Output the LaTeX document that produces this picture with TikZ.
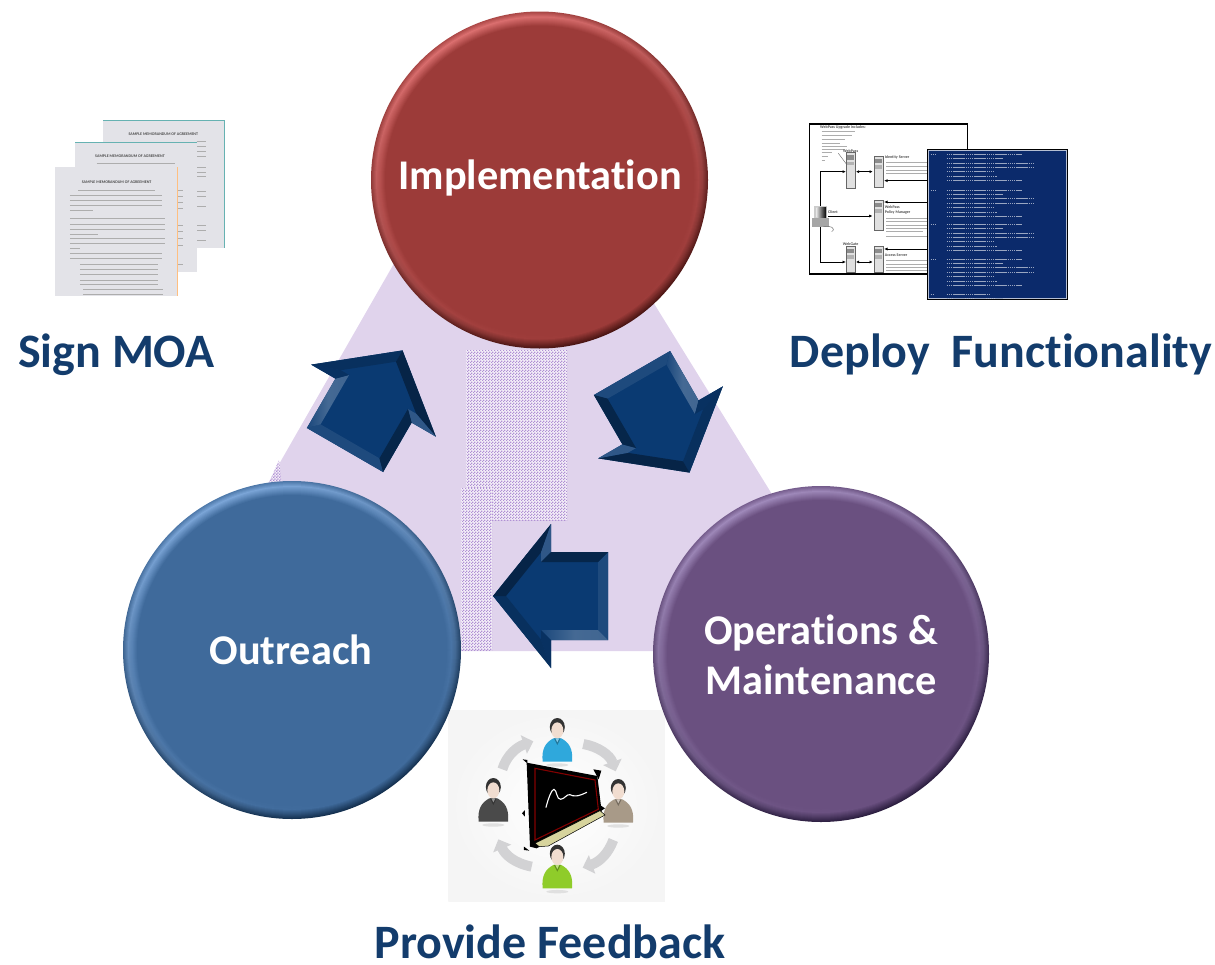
\documentclass[tikz,border=0pt]{standalone}
\usepackage{fontspec}
\setmainfont{Carlito}[Ligatures=NoCommon]
\usetikzlibrary{patterns,arrows.meta}
\definecolor{tri}{HTML}{E0D3EC}
\definecolor{redb}{HTML}{9C3B39}\definecolor{redh}{HTML}{DC7070}\definecolor{reds}{HTML}{4A1513}
\definecolor{blub}{HTML}{3F6A9B}\definecolor{bluh}{HTML}{7CA6D8}\definecolor{blus}{HTML}{14304F}
\definecolor{purb}{HTML}{6A5080}\definecolor{purh}{HTML}{A08ABB}\definecolor{purs}{HTML}{2C1E40}
\definecolor{navy}{HTML}{0A3A72}
\definecolor{labelc}{HTML}{133C6C}
\definecolor{docc}{HTML}{E3E3E8}
\definecolor{panel}{HTML}{0B2A6B}
\definecolor{garrow}{HTML}{D2D2D4}
\definecolor{hatchbase}{HTML}{F4EFF8}
\definecolor{hatchdot}{HTML}{B090D4}
\definecolor{skin}{HTML}{F1DDD0}
\definecolor{shirta}{HTML}{2FA8DC}\definecolor{shirtb}{HTML}{4A4A4A}
\definecolor{shirtc}{HTML}{A89A88}\definecolor{shirtd}{HTML}{8FCC2A}
\pgfdeclarepatternformonly{chk}{\pgfqpoint{0pt}{0pt}}{\pgfqpoint{2.7pt}{2.7pt}}{\pgfqpoint{2.7pt}{2.7pt}}{%
  \pgfpathrectangle{\pgfqpoint{0pt}{0pt}}{\pgfqpoint{1.35pt}{1.35pt}}%
  \pgfpathrectangle{\pgfqpoint{1.35pt}{1.35pt}}{\pgfqpoint{1.35pt}{1.35pt}}%
  \pgfusepath{fill}}
\tikzset{
  hatchfill/.style={fill=hatchbase,postaction={pattern=chk,pattern color=hatchdot}},
  bigtext/.style={text=white,font=\fontsize{42.3}{50}\selectfont\bfseries,align=center,inner sep=0pt},
  caption/.style={text=labelc,font=\fontsize{48}{54}\selectfont\bfseries,inner sep=0pt,anchor=base},
  docpage/.style={fill=docc},
  docline/.style={draw=black!32,line width=0.5pt},
  panelline/.style={draw=white!58!panel,line width=0.55pt,dash pattern=on 1.6pt off 0.5pt},
  netline/.style={draw=black,line width=0.9pt},
  tinytext/.style={font=\fontsize{4}{4.5}\selectfont\bfseries,text=black!70,inner sep=0pt},
  greyarrow/.style={draw=garrow,line width=10pt,-{Triangle[width=19pt,length=10pt]}},
}
\newcommand{\bevelcircle}[6]{%
  \foreach \i in {0,...,14}{%
    \pgfmathsetmacro\rr{#3-\i}%
    \pgfmathtruncatemacro\pp{\i<5 ? 25+\i*15 : 100*(14-\i)/9}%
    \pgfmathtruncatemacro\qq{\i<9 ? 100-\i*11 : 0}%
    \shade[top color=#5!\pp!#4,bottom color=#6!\qq!#4,shading angle=25] (#1,#2) circle[radius=\rr pt];
  }}
\newcommand{\navyarrow}[3]{%
  \begin{scope}[shift={(#1,#2)},rotate=#3]
    \fill[navy] (0,-44)--(57,-44)--(57,-72)--(115,0)--(57,72)--(57,44)--(0,44)--cycle;
    \fill[navy!92!white] (0,-44)--(0,44)--(10,34)--(10,-34)--cycle;
    \shade[left color=navy!93!white,right color=navy!78!white,middle color=navy!76!white] (0,-44)--(57,-44)--(67,-34)--(10,-34)--cycle;
    \fill[navy!85!black] (57,-44)--(57,-72)--(67,-43.6)--(67,-34)--cycle;
    \fill[navy!82!black] (57,-72)--(115,0)--(102,0)--(67,-43.6)--cycle;
    \fill[navy!62!black] (115,0)--(57,72)--(67,43.6)--(102,0)--cycle;
    \fill[navy!85!white] (57,72)--(57,44)--(67,34)--(67,43.6)--cycle;
    \fill[navy!65!black] (57,44)--(0,44)--(10,34)--(67,34)--cycle;
  \end{scope}}
\newcommand{\person}[3]{% head x, head y, body colour
  \fill[black!12] (#1,#2+110) ellipse[x radius=11pt,y radius=1.7pt];
  \fill[#3] (#1-44,#2+100) .. controls (#1-48,#2+60) and (#1-34,#2+42) .. (#1-12,#2+30)
     -- (#1+12,#2+30) .. controls (#1+34,#2+42) and (#1+48,#2+60) .. (#1+44,#2+100) -- cycle;
  \fill[#3!70!black] (#1-10,#2+30) -- (#1,#2+50) -- (#1+10,#2+30) -- cycle;
  \fill[#3!60!white] (#1-6,#2+30) -- (#1,#2+42) -- (#1+6,#2+30) -- cycle;
  \fill[black!80] (#1,#2-4) ellipse[x radius=7.5pt,y radius=9pt];
  \fill[skin] (#1,#2+6) ellipse[x radius=6pt,y radius=8pt];
}
\begin{document}
\begin{tikzpicture}[x=1pt,y=-1pt]
\useasboundingbox (0,0) rectangle (1215,964);
% background triangle
\fill[tri] (172,651)--(459,150)--(559,150)--(869,651)--cycle;
% hatched patches
\path[hatchfill] (466,350) rectangle (567,520);
\path[hatchfill] (461,488) rectangle (492,650);
\path[hatchfill] (279,460)--(268,485)--(282,485)--cycle;
% documents
\begin{scope}[shift={(40,110)},x=0.3333pt,y=-0.3333pt]
  \fill[docpage] (190,30) rectangle (552,415);
  \draw[teal!60,line width=0.6pt] (190,30)--(552,30)--(552,415);
  \node[tinytext] (titlec) at (370,73) {SAMPLE MEMORANDUM OF AGREEMENT};
  \foreach \y in {95,110,125,140,172,187,200,245,260,290,345,362,392}{\draw[docline] (470,\y)--(497,\y);}
  \fill[docpage] (106,97) rectangle (470,485);
  \draw[teal!60,line width=0.6pt] (106,97)--(470,97);
  \node[tinytext] (titleb) at (270,140) {SAMPLE MEMORANDUM OF AGREEMENT};
  \draw[docline] (170,160)--(405,160);
  \foreach \y in {240,258,276,294,345,365,385,405,462}{\draw[docline] (415,\y)--(430,\y);}
  \fill[docpage] (45,172) rectangle (413,557);
  \draw[orange!50,line width=0.5pt] (413,172)--(413,557);
  \node[tinytext] (titlea) at (230,217) {SAMPLE MEMORANDUM OF AGREEMENT};
  \draw[docline] (115,240)--(345,240);
  \foreach \y in {256,272,287}{\draw[docline] (90,\y)--(365,\y);}
  \draw[docline] (90,300)--(160,300);
  \foreach \y in {325,342,358}{\draw[docline] (90,\y)--(375,\y);}
  \draw[docline] (90,372)--(175,372);
  \foreach \y in {385,400}{\draw[docline] (90,\y)--(375,\y);}
  \draw[docline] (90,415)--(120,415);
  \foreach \y in {430,445}{\draw[docline] (90,\y)--(365,\y);}
  \foreach \y in {462,478,494,510,522}{\draw[docline] (120,\y)--(355,\y);}
  \foreach \y in {537,552}{\draw[docline] (130,\y)--(370,\y);}
\end{scope}
% network diagram
\begin{scope}[shift={(800,110)},x=0.3333pt,y=-0.3333pt]
  \draw[fill=white,line width=1.5pt] (28,42) rectangle (503,492);
  \node[tinytext,anchor=west] (wpt) at (60,52) {WebPass Upgrade includes:};
  \foreach \y/\e in {63/165,75/155,87/135,99/120,108/140,118/135,128/95,140/85,152/75}{\draw[docline] (65,\y)--(\e,\y);}
  \draw[black!60,line width=0.4pt] (115,130)--(145,170);
  % servers
  \foreach \x/\y/\h in {138/128/107, 222/138/95, 222/270/92, 138/408/80, 222/408/80}{
    \draw[fill=black!12,draw=black!60,line width=0.5pt] (\x,\y) rectangle (\x+27,\y+\h);
    \fill[black!45] (\x+3,\y+8) rectangle (\x+24,\y+22);
    \fill[black!30] (\x+3,\y+28) rectangle (\x+24,\y+38);
  }
  \node[tinytext] (wp1) at (152,122) {WebPass};
  \node[tinytext,anchor=west] (ids) at (254,143) {Identity Server};
  \node[tinytext,anchor=west] (wp2) at (254,292) {WebPass};
  \node[tinytext,anchor=west] (pm) at (254,308) {Policy Manager};
  \node[tinytext] (wg) at (152,401) {WebGate};
  \node[tinytext,anchor=west] (acs) at (254,435) {Access Server};
  \node[tinytext,anchor=west] (clt) at (84,307) {Client};
  \foreach \y/\e in {158/380,170/380,180/380,190/380,325/380,335/380,345/380,355/380,365/370,378/380,450/380,462/380,472/380,482/380}{\draw[docline] (258,\y)--(\e,\y);}
  % client
  \fill[black!20] (42,288) rectangle (80,325);
  \shade[left color=black!15,right color=black] (50,292) rectangle (78,323);
  \fill[black!35] (36,325) rectangle (86,350);
  \draw[black!55,line width=0.5pt] (70,350) .. controls (90,345) and (110,355) .. (95,365);
  % connectors
  \draw[netline,-{Latex[length=3.5pt,width=3pt]}] (60,288)--(60,185)--(138,185);
  \draw[netline,-{Latex[length=3.5pt,width=3pt]}] (60,350)--(60,456)--(138,456);
  \draw[netline,-{Latex[length=3.5pt,width=3pt]}] (85,318)--(218,318);
  \draw[netline,{Latex[length=3pt,width=3pt]}-{Latex[length=3pt,width=3pt]}] (168,185)--(218,185);
  \draw[netline,{Latex[length=3pt,width=3pt]}-{Latex[length=3pt,width=3pt]}] (168,456)--(218,456);
  \draw[netline,-{Latex[length=3.5pt,width=3pt]}] (385,212)--(252,212);
  \draw[netline,-{Latex[length=3.5pt,width=3pt]}] (385,276)--(252,276);
  \draw[netline,-{Latex[length=3.5pt,width=3pt]}] (385,417)--(252,417);
  % terminal panel
  \draw[fill=panel,draw=black,line width=1pt] (382,118) rectangle (803,570);
  \draw[white!70!panel,line width=0.9pt] (386,122) rectangle (799,566);
  \foreach \y in {133,240,343,447}{
    \draw[panelline] (392,\y)--(410,\y);
    \draw[panelline] (440,\y)--(665,\y);
    \draw[panelline] (440,\y+12)--(610,\y+12);
    \draw[panelline] (440,\y+26)--(700,\y+26);
    \draw[panelline] (440,\y+39)--(700,\y+39);
    \draw[panelline] (440,\y+52)--(580,\y+52);
    \draw[panelline] (440,\y+66)--(590,\y+66);
    \draw[panelline] (440,\y+79)--(665,\y+79);
  }
  \draw[panelline] (392,552)--(400,552);
  \draw[panelline] (440,552)--(570,552);
  \draw[panelline] (440,565)--(610,565);
\end{scope}
% feedback picture
\begin{scope}[shift={(440,700)},x=0.3333pt,y=-0.3333pt]
  \shade[inner color=white,outer color=black!4] (25,30) rectangle (675,605);
  \draw[greyarrow] (187,208) .. controls (200,165) and (232,140) .. (280,124);
  \draw[greyarrow] (430,132) .. controls (475,140) and (510,165) .. (527,214);
  \draw[greyarrow] (520,420) .. controls (505,460) and (480,485) .. (428,503);
  \draw[greyarrow] (275,500) .. controls (225,490) and (195,465) .. (175,418);
  \person{352}{85}{shirta}
  \person{160}{265}{shirtb}
  \person{535}{268}{shirtc}
  % blackboard
  \fill[black] (260,188)--(472,228)--(485,335)--(290,445)--(270,440)--cycle;
  \fill[black] (248,178)--(262,180)--(262,190)--cycle;
  \fill[black] (460,208)--(484,212)--(476,238)--cycle;
  \fill[black] (480,315)--(495,325)--(480,335)--cycle;
  \fill[black] (255,330) -- (246,340) -- (255,350) -- cycle;
  \fill[black] (252,440)--(268,452)--(252,450)--cycle;
  \draw[fill=black,draw=black!40!red!85!black,line width=1.1pt] (285,205)--(465,240)--(475,328)--(285,420)--cycle;
  \draw[fill=black!40!yellow!45!white,draw=black,line width=0.5pt] (285,430)--(480,332)--(495,345)--(325,438)--(298,440)--cycle;
  \draw[white,line width=1.1pt,line cap=round] (318,322) .. controls (325,295) and (335,268) .. (342,268)
     .. controls (350,268) and (350,300) .. (362,298) .. controls (375,296) and (380,282) .. (390,284)
     .. controls (400,290) and (415,290) .. (440,277);
  \person{352}{465}{shirtd}
\end{scope}
% arrows
\navyarrow{345}{450}{60}
\navyarrow{632}{373}{-60}
\navyarrow{608}{596}{180}
% circles
\bevelcircle{539.5}{180}{168.5}{redb}{redh}{reds}
\bevelcircle{292}{650}{169}{blub}{bluh}{blus}
\bevelcircle{821}{654}{168}{purb}{purh}{purs}
\node[bigtext] (impl) at (540,178) {Implementation};
\node[bigtext] (outr) at (291,650) {Outreach};
\node[bigtext] (opsm) at (821,655) {Operations \&\\Maintenance};
% captions
\node[caption] (signm) at (116.5,367) {Sign MOA};
\node[caption] (deploy) at (1001,367) {Deploy\ \ Functionality};
\node[caption] (feedb) at (550,958) {Provide Feedback};
\end{tikzpicture}
\end{document}
